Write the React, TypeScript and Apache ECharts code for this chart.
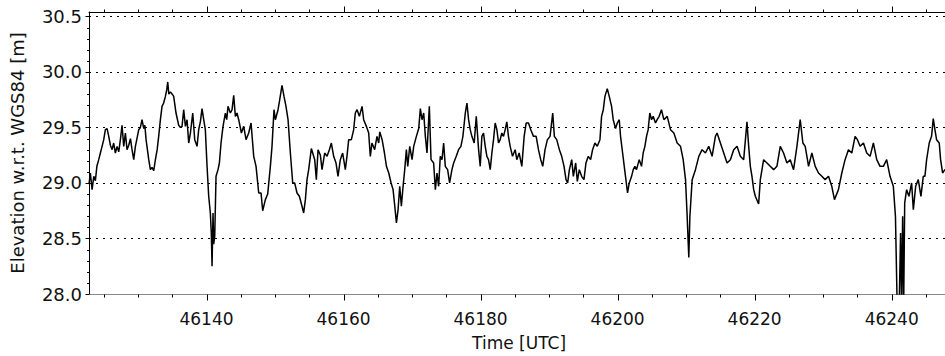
import React, { useEffect, useRef } from "react";
import * as echarts from "echarts";

// Time [UTC] (seconds of day) and elevation w.r.t. WGS84 [m]
const time: number[] = [
  46122.85, 46123.05, 46123.3, 46123.55, 46123.78, 46124.0, 46124.27, 46124.51, 46124.76, 46125.0,
  46125.24, 46125.49, 46125.73, 46125.97, 46126.22, 46126.45, 46126.7, 46126.95, 46127.19, 46127.45,
  46127.67, 46127.92, 46128.16, 46128.4, 46128.65, 46128.9, 46129.13, 46129.38, 46129.62, 46129.85,
  46130.11, 46130.35, 46130.59, 46130.84, 46131.0, 46131.18, 46131.57, 46131.81, 46132.05, 46132.3,
  46132.54, 46132.8, 46133.02, 46133.27, 46133.51, 46133.75, 46134.0, 46134.2, 46134.34, 46134.5,
  46134.73, 46135.0, 46135.21, 46135.55, 46135.94, 46136.2, 46136.43, 46136.67, 46136.92, 46137.16,
  46137.4, 46137.65, 46137.99, 46138.28, 46138.62, 46138.86, 46139.1, 46139.35, 46139.59, 46139.83,
  46140.08, 46140.32, 46140.56, 46140.7, 46140.81, 46140.95, 46141.05, 46141.2, 46141.39, 46141.68,
  46141.88, 46142.12, 46142.41, 46142.75, 46142.95, 46143.14, 46143.48, 46143.73, 46143.97, 46144.21,
  46144.45, 46144.7, 46145.09, 46145.43, 46145.77, 46146.16, 46146.5, 46146.89, 46147.23, 46147.62,
  46147.96, 46148.2, 46148.59, 46148.93, 46149.32, 46149.56, 46149.85, 46150.05, 46150.44, 46150.63,
  46151.02, 46151.31, 46151.6, 46151.9, 46152.24, 46152.58, 46152.87, 46153.21, 46153.55, 46153.94,
  46154.18, 46154.43, 46154.67, 46154.91, 46155.3, 46155.5, 46155.79, 46156.03, 46156.28, 46156.62,
  46156.86, 46157.25, 46157.59, 46157.93, 46158.22, 46158.56, 46158.9, 46159.19, 46159.53, 46159.87,
  46160.26, 46160.5, 46160.75, 46161.14, 46161.48, 46161.72, 46161.97, 46162.31, 46162.7, 46162.94,
  46163.33, 46163.67, 46163.91, 46164.15, 46164.54, 46164.88, 46165.13, 46165.29, 46165.63, 46165.97,
  46166.26, 46166.6, 46166.94, 46167.23, 46167.43, 46167.72, 46167.96, 46168.2, 46168.44, 46168.69,
  46168.93, 46169.17, 46169.37, 46169.66, 46170.0, 46170.24, 46170.63, 46170.97, 46171.21, 46171.45,
  46171.7, 46171.94, 46172.18, 46172.52, 46172.77, 46173.15, 46173.4, 46173.64, 46173.88, 46174.12,
  46174.37, 46174.61, 46174.85, 46175.19, 46175.48, 46175.82, 46176.07, 46176.45, 46176.79, 46177.13,
  46177.42, 46177.77, 46178.01, 46178.25, 46178.49, 46178.73, 46179.07, 46179.37, 46179.71, 46179.95,
  46180.19, 46180.43, 46180.68, 46180.92, 46181.16, 46181.41, 46181.65, 46181.89, 46182.13, 46182.38,
  46182.62, 46182.86, 46183.1, 46183.35, 46183.59, 46183.83, 46184.07, 46184.32, 46184.66, 46185.05,
  46185.29, 46185.63, 46186.02, 46186.36, 46186.65, 46186.99, 46187.33, 46187.72, 46188.11, 46188.45,
  46188.78, 46189.07, 46189.41, 46189.75, 46190.14, 46190.53, 46190.77, 46191.11, 46191.5, 46191.84,
  46192.18, 46192.47, 46192.71, 46192.96, 46193.3, 46193.54, 46193.88, 46194.12, 46194.41, 46194.75,
  46195.09, 46195.38, 46195.72, 46196.06, 46196.35, 46196.69, 46197.03, 46197.42, 46197.66, 46197.91,
  46198.15, 46198.49, 46198.78, 46199.12, 46199.36, 46199.7, 46199.95, 46200.24, 46200.43, 46200.73,
  46200.97, 46201.21, 46201.45, 46201.7, 46202.04, 46202.28, 46202.52, 46202.76, 46203.15, 46203.49,
  46203.73, 46203.98, 46204.22, 46204.46, 46204.7, 46204.95, 46205.19, 46205.53, 46205.77, 46206.06,
  46206.4, 46206.75, 46207.24, 46207.72, 46208.21, 46208.69, 46209.18, 46209.57, 46209.91, 46210.15,
  46210.39, 46210.55, 46210.88, 46211.36, 46211.85, 46212.33, 46212.82, 46213.3, 46213.79, 46214.27,
  46214.52, 46215.0, 46215.49, 46215.97, 46216.46, 46216.94, 46217.43, 46217.91, 46218.4, 46218.88,
  46219.13, 46219.37, 46219.61, 46219.86, 46220.1, 46220.58, 46220.83, 46221.31, 46221.8, 46222.28,
  46222.77, 46223.25, 46223.74, 46224.22, 46224.71, 46225.19, 46225.68, 46226.17, 46226.65, 46227.04,
  46227.38, 46227.87, 46228.35, 46228.84, 46229.32, 46229.81, 46230.29, 46230.78, 46231.26, 46231.65,
  46232.23, 46232.72, 46233.2, 46233.69, 46234.18, 46234.66, 46235.0, 46235.39, 46235.88, 46236.36,
  46236.85, 46237.33, 46237.82, 46238.3, 46238.79, 46239.27, 46239.76, 46240.24, 46240.55, 46240.8,
  46241.1, 46241.3, 46241.45, 46241.6, 46241.75, 46241.9, 46242.18, 46242.52, 46242.91, 46243.16,
  46243.5, 46243.88, 46244.27, 46244.61, 46244.85, 46245.1, 46245.48, 46245.82, 46246.07, 46246.31,
  46246.55, 46246.94, 46247.14, 46247.43, 46247.77, 46248.2,
];

const elevation: number[] = [
  28.99, 29.09, 28.94, 29.06, 29.02, 29.15, 29.21, 29.27, 29.33, 29.39,
  29.48, 29.49, 29.42, 29.34, 29.3, 29.36, 29.27, 29.33, 29.28, 29.4,
  29.52, 29.33, 29.45, 29.3, 29.34, 29.4, 29.3, 29.21, 29.33, 29.4,
  29.48, 29.5, 29.57, 29.49, 29.52, 29.39, 29.21, 29.12, 29.14, 29.11,
  29.21, 29.3, 29.42, 29.57, 29.69, 29.72, 29.78, 29.84, 29.91, 29.8,
  29.82, 29.8, 29.78, 29.63, 29.52, 29.5, 29.51, 29.66, 29.51, 29.57,
  29.36, 29.45, 29.63, 29.39, 29.33, 29.48, 29.55, 29.67, 29.57, 29.48,
  29.15, 28.88, 28.73, 28.55, 28.25, 28.73, 28.45, 28.52, 29.06, 29.12,
  29.18, 29.36, 29.51, 29.63, 29.57, 29.69, 29.63, 29.66, 29.79, 29.6,
  29.63, 29.57, 29.45, 29.51, 29.39, 29.45, 29.54, 29.24, 29.15, 28.91,
  28.91, 28.75, 28.85, 28.9, 29.15, 29.33, 29.66, 29.57, 29.66, 29.73,
  29.88, 29.78, 29.69, 29.57, 29.27, 29.0, 29.0, 28.91, 28.88, 28.79,
  28.73, 28.85, 29.03, 29.12, 29.31, 29.27, 29.21, 29.03, 29.3, 29.25,
  29.12, 29.27, 29.24, 29.3, 29.36, 29.24, 29.18, 29.06, 29.21, 29.27,
  29.12, 29.24, 29.39, 29.39, 29.48, 29.63, 29.66, 29.6, 29.69, 29.57,
  29.51, 29.45, 29.24, 29.36, 29.3, 29.42, 29.36, 29.46, 29.39, 29.27,
  29.15, 29.09, 29.0, 28.94, 28.82, 28.64, 28.76, 28.97, 28.79, 28.97,
  29.12, 29.3, 29.15, 29.33, 29.21, 29.33, 29.42, 29.49, 29.67, 29.57,
  29.63, 29.42, 29.27, 29.69, 29.21, 29.18, 28.94, 29.09, 28.97, 29.24,
  29.21, 29.36, 29.15, 29.12, 29.0, 29.12, 29.18, 29.24, 29.3, 29.33,
  29.42, 29.63, 29.72, 29.57, 29.48, 29.42, 29.36, 29.6, 29.3, 29.15,
  29.42, 29.45, 29.33, 29.24, 29.21, 29.12, 29.27, 29.39, 29.54, 29.48,
  29.36, 29.39, 29.45, 29.42, 29.48, 29.55, 29.42, 29.33, 29.24, 29.3,
  29.21, 29.27, 29.15, 29.42, 29.54, 29.54, 29.48, 29.42, 29.42, 29.3,
  29.21, 29.15, 29.3, 29.39, 29.42, 29.63, 29.42, 29.39, 29.3, 29.24,
  29.15, 29.03, 29.0, 29.12, 29.21, 29.06, 29.18, 29.015, 29.12, 29.06,
  29.03, 29.18, 29.24, 29.21, 29.3, 29.36, 29.33, 29.39, 29.6, 29.66,
  29.78, 29.85, 29.78, 29.69, 29.57, 29.49, 29.54, 29.57, 29.42, 29.27,
  29.15, 29.03, 28.91, 29.0, 29.06, 29.12, 29.15, 29.12, 29.21, 29.15,
  29.27, 29.33, 29.42, 29.48, 29.63, 29.57, 29.6, 29.54, 29.57, 29.6,
  29.66, 29.57, 29.6, 29.48, 29.45, 29.36, 29.33, 29.21, 29.03, 28.7,
  28.33, 28.7, 29.03, 29.12, 29.24, 29.3, 29.27, 29.33, 29.24, 29.42,
  29.45, 29.36, 29.27, 29.18, 29.21, 29.3, 29.33, 29.24, 29.21, 29.55,
  29.33, 29.15, 29.06, 28.94, 28.88, 28.81, 29.03, 29.21, 29.18, 29.15,
  29.12, 29.15, 29.33, 29.27, 29.18, 29.21, 29.12, 29.33, 29.57, 29.36,
  29.33, 29.15, 29.27, 29.15, 29.09, 29.06, 29.03, 29.06, 28.97, 28.85,
  28.94, 29.09, 29.21, 29.3, 29.27, 29.42, 29.39, 29.33, 29.36, 29.27,
  29.24, 29.36, 29.21, 29.15, 29.15, 29.21, 29.06, 28.97, 28.7, 27.9,
  27.9, 28.55, 27.9, 28.7, 27.9, 28.82, 28.94, 28.88, 29.0, 28.76,
  28.97, 29.03, 28.88, 29.06, 29.06, 29.21, 29.36, 29.42, 29.58, 29.48,
  29.39, 29.36, 29.21, 29.09, 29.12, 29.1,
];

const xTicks = [46140, 46160, 46180, 46200, 46220, 46240];
const xMinorTicks = [
  46125, 46130, 46135, 46145, 46150, 46155, 46165, 46170, 46175, 46185, 46190, 46195,
  46205, 46210, 46215, 46225, 46230, 46235, 46245,
];
const yTicks = [28.0, 28.5, 29.0, 29.5, 30.0, 30.5];
const yMinorTicks = [
  28.1, 28.2, 28.3, 28.4, 28.6, 28.7, 28.8, 28.9, 29.1, 29.2, 29.3, 29.4,
  29.6, 29.7, 29.8, 29.9, 30.1, 30.2, 30.3, 30.4,
];

const X_MIN = 46122.85;
const X_MAX = 46250;
const Y_MIN = 28.0;
const Y_MAX = 30.54;

const FONT = "DejaVu Sans";

// custom series that draws axis tick marks at data positions through the axes' scales
function tickSeries(points: number[][], dx: number, dy: number) {
  return {
    type: "custom",
    coordinateSystem: "cartesian2d",
    xAxisIndex: 0,
    yAxisIndex: 0,
    clip: false,
    silent: true,
    z: 10,
    data: points,
    renderItem: (_params: any, api: any) => {
      const p = api.coord([api.value(0), api.value(1)]);
      const x = Math.round(p[0]) + 0.5;
      const y = Math.round(p[1]) + 0.5;
      return {
        type: "line",
        shape: { x1: x, y1: y, x2: x + dx, y2: y + dy },
        style: { stroke: "#000", lineWidth: 1 },
      };
    },
  };
}

export default function App() {
  const ref = useRef<HTMLDivElement>(null);

  useEffect(() => {
    if (!ref.current) return;
    const chart = echarts.init(ref.current, null, { renderer: "svg" });
    const data = time.map((t, i) => [t, elevation[i]]);
    const hidden = { show: false };

    chart.setOption({
      animation: false,
      backgroundColor: "#ffffff",
      grid: { left: 89, top: 12, width: 871.2, height: 283.5, containLabel: false },
      xAxis: [
        {
          type: "value",
          position: "bottom",
          min: X_MIN,
          max: X_MAX,
          axisLine: { show: true, onZero: false, lineStyle: { color: "#888", width: 1 } },
          axisTick: hidden,
          axisLabel: {
            show: true,
            customValues: xTicks,
            margin: 16,
            fontSize: 17,
            fontFamily: FONT,
            color: "#111",
            formatter: (v: number) => String(Math.round(v)),
          },
          splitLine: hidden,
          name: "Time [UTC]",
          nameLocation: "middle",
          nameGap: 40,
          nameTextStyle: { fontSize: 17, fontFamily: FONT, color: "#111", padding: [0, 11, 0, 0] },
        },
        {
          type: "value",
          position: "top",
          min: X_MIN,
          max: X_MAX,
          axisLine: { show: true, onZero: false, lineStyle: { color: "#000", width: 1 } },
          axisTick: hidden,
          axisLabel: hidden,
          splitLine: hidden,
        },
      ],
      yAxis: [
        {
          type: "value",
          position: "left",
          min: Y_MIN,
          max: Y_MAX,
          interval: 0.5,
          axisLine: { show: true, onZero: false, lineStyle: { color: "#000", width: 1 } },
          axisTick: hidden,
          axisLabel: {
            show: true,
            customValues: yTicks,
            margin: 7,
            fontSize: 18,
            fontFamily: FONT,
            color: "#111",
            formatter: (v: number) => v.toFixed(1),
          },
          splitLine: { show: true, lineStyle: { color: "#000", width: 1, type: [2, 5] } },
          name: "Elevation w.r.t. WGS84 [m]",
          nameLocation: "middle",
          nameRotate: 90,
          nameGap: 63,
          nameTextStyle: { fontSize: 18, fontFamily: FONT, color: "#111" },
        },
      ],
      series: [
        {
          type: "line",
          xAxisIndex: 0,
          yAxisIndex: 0,
          data,
          showSymbol: false,
          symbol: "none",
          clip: true,
          lineStyle: { color: "#000", width: 1.5 },
          silent: true,
        },
        tickSeries(xTicks.map((v) => [v, Y_MIN]), 0, 6),
        tickSeries(xMinorTicks.map((v) => [v, Y_MIN]), 0, 3),
        tickSeries(xTicks.map((v) => [v, Y_MAX]), 0, -6),
        tickSeries(xMinorTicks.map((v) => [v, Y_MAX]), 0, -3),
        tickSeries(yTicks.map((v) => [X_MIN, v]), -4, 0),
        tickSeries(yMinorTicks.map((v) => [X_MIN, v]), -2.5, 0),
      ],
    });

    return () => chart.dispose();
  }, []);

  return (
    <div
      style={{
        position: "fixed",
        left: 0,
        top: 0,
        width: 945,
        height: 356,
        overflow: "hidden",
        background: "#fff",
      }}
    >
      <div ref={ref} style={{ width: 1000, height: 356 }} />
    </div>
  );
}
